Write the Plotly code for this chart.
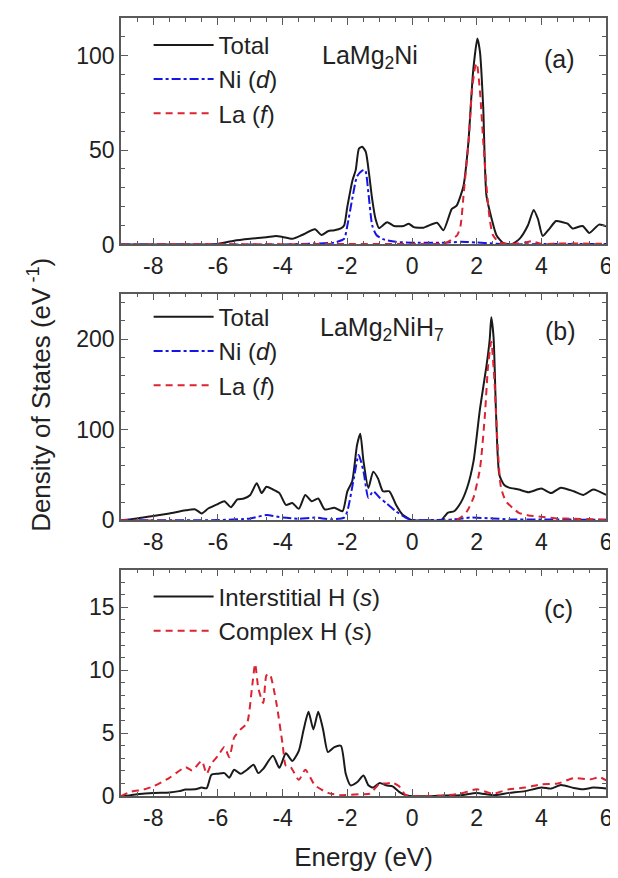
import plotly.graph_objects as go

# ---------------- Panel (a): LaMg2Ni ----------------
a_total_E = [-9, -6.5, -6.0, -5.5, -5.0, -4.5, -4.2, -4.0, -3.7, -3.4, -3.0, -2.8, -2.6, -2.4, -2.2,
             -2.10, -2.0, -1.84, -1.74, -1.64, -1.54, -1.43, -1.33, -1.23, -1.13, -1.02,
             -0.77, -0.56, -0.26, -0.1, 0.05, 0.36, 0.77, 0.97, 1.23, 1.38, 1.59, 1.74, 1.89,
             2.02, 2.1, 2.2, 2.3, 2.46, 2.61, 2.81, 3.07, 3.33, 3.58, 3.76, 3.89, 4.04, 4.25,
             4.45, 4.66, 4.81, 4.96, 5.27, 5.48, 5.78, 6.0]
a_total = [0, 0, 0.3, 2, 3, 3.8, 4.5, 4, 3, 5, 8, 5, 7, 7.5, 8.5,
           10, 20, 34, 39.5, 50.8, 51.7, 49, 37.6, 23.7, 13.6, 8.7,
           11.8, 9.8, 9.8, 11, 9.2, 8.9, 11.5, 7.5, 18.8, 20.6, 31, 53.7, 92,
           109, 102, 72.8, 25.8, 13.6, 4.9, 0.9, 0, 3.1, 10, 18.3, 13.6, 4.5, 8.4,
           12.4, 11.8, 11, 8.4, 9.8, 6.1, 10.5, 9.6]

a_ni_E = [-9, -4.0, -3.0, -2.4, -2.1, -2.0, -1.85, -1.7, -1.55, -1.45, -1.35, -1.23, -1.1, -0.9,
          -0.5, 0, 1.0, 1.5, 2.0, 2.5, 3.0, 4.0, 6.0]
a_ni = [0, 0, 0.5, 1, 3, 10, 24, 36, 39, 39.4, 27.5, 10, 5, 2.8,
        1.4, 0.9, 0.9, 1.4, 1, 0.5, 0, 0.2, 0.2]

a_la_E = [-9, -2.0, 0, 1.0, 1.2, 1.4, 1.5, 1.6, 1.75, 1.85, 1.95, 2.0, 2.1, 2.2, 2.3, 2.4, 2.5,
          2.7, 3.0, 3.5, 3.7, 4.0, 4.5, 5.0, 6.0]
a_la = [0, 0.2, 0.2, 0.5, 2.3, 5, 10, 27.5, 55, 81, 94, 96, 81, 55, 31, 13.6, 5,
        1, 0.2, 1, 1.7, 0.3, 0.5, 0.5, 0.3]

# ---------------- Panel (b): LaMg2NiH7 ----------------
b_total_E = [-9, -8.5, -8, -7.5, -7, -6.7, -6.5, -6.3, -6, -5.8, -5.6, -5.4, -5.2, -5, -4.8, -4.65,
             -4.5, -4.3, -4.1, -3.9, -3.7, -3.5, -3.3, -3.1, -2.9, -2.7, -2.4, -2.15, -2.0,
             -1.85, -1.7, -1.6, -1.5, -1.35, -1.2, -1.05, -0.9, -0.7, -0.5, -0.3, 0, 0.5, 0.9,
             1.1, 1.3, 1.5, 1.7, 1.9, 2.1, 2.3, 2.4, 2.45, 2.52, 2.6, 2.7, 2.85, 3.0, 3.3, 3.6,
             4.0, 4.3, 4.6, 5.0, 5.3, 5.6, 6.0]
b_total = [0, 2, 4.7, 7.6, 11, 12, 7.6, 13, 18, 21, 14.5, 23, 24, 28, 41, 30,
           37, 34, 30, 17, 19, 12.7, 28, 21, 24, 12, 13.8, 10, 32,
           43, 83, 95.5, 65, 35.6, 53.7, 46, 32, 32, 17.4, 6.5, 0, 0, 0,
           8.3, 10, 19, 35.6, 65, 123, 170, 199, 224, 202, 115, 50, 39, 36, 34, 31,
           35, 30, 36, 32, 28, 34, 28]

b_ni_E = [-9, -6, -5, -4.5, -4, -3.5, -3, -2.5, -2.1, -2.0, -1.8, -1.65, -1.5, -1.35, -1.2, -1.0,
          -0.8, -0.5, -0.2, 0, 1.0, 1.3, 1.8, 2.5, 3.0, 4.0, 6.0]
b_ni = [0, 0.3, 2, 5.8, 3, 1.8, 3, 1, 3, 10, 46, 72, 54, 25, 32, 25,
        19, 10, 3, 0.5, 0.5, 1, 3, 2, 1, 1, 0.5]

b_la_E = [-9, 1.3, 1.5, 1.7, 1.9, 2.1, 2.25, 2.35, 2.45, 2.55, 2.65, 2.75, 2.9, 3.1, 3.3, 3.6,
          4.0, 4.5, 5.0, 6.0]
b_la = [0, 0, 3, 10, 25, 57, 115, 170, 197, 152, 79, 36, 21, 14, 8.3, 5.4,
        4, 2, 1.8, 0.5]

# ---------------- Panel (c): H s-states ----------------
c_int_E = [-9, -8.7, -8.5, -8, -7.5, -7.2, -7, -6.7, -6.5, -6.35, -6.2, -6, -5.8, -5.65, -5.5,
           -5.3, -5.1, -4.9, -4.75, -4.6, -4.3, -4.1, -3.9, -3.7, -3.5, -3.35, -3.2, -3.05,
           -2.9, -2.75, -2.6, -2.4, -2.2, -2.05, -1.9, -1.7, -1.5, -1.35, -1.2, -1.0, -0.8,
           -0.6, -0.4, -0.2, 0, 0.5, 1.0, 1.5, 2.0, 2.5, 3.0, 3.5, 4.0, 4.3, 4.6, 5.0, 5.3,
           5.6, 6.0]
c_int = [0, 0.08, 0.15, 0.26, 0.3, 0.4, 0.52, 0.55, 0.68, 0.63, 1.7, 1.78, 1.83, 1.46, 2.1,
         1.78, 2.1, 2.5, 1.83, 2.17, 3.2, 2.25, 3.4, 2.8, 3.6, 5.3, 6.7, 5.3,
         6.7, 5.3, 3.5, 3.9, 4.0, 1.78, 0.86, 1.1, 1.64, 0.86, 0.68, 1.05, 0.86,
         0.78, 0.34, 0.08, 0, 0, 0.05, 0.08, 0.26, 0.08, 0.26, 0.4, 0.68, 0.6, 0.89, 0.65, 0.55,
         0.68, 0.6]

c_cpx_E = [-9, -8.7, -8.3, -8, -7.5, -7, -6.8, -6.5, -6.35, -6.2, -6, -5.8, -5.65, -5.5, -5.3,
           -5.1, -4.95, -4.85, -4.75, -4.6, -4.5, -4.4, -4.2, -4.0, -3.9, -3.75, -3.5, -3.3,
           -3.0, -2.6, -2.2, -1.6, -1.3, -1.0, -0.8, -0.6, -0.4, -0.2, 0, 1.0, 1.5, 2.0, 2.5,
           3.0, 3.5, 4.0, 4.5, 5.0, 5.5, 5.8, 6.0]
c_cpx = [0, 0.34, 0.52, 0.78, 1.46, 2.3, 2.04, 2.8, 1.78, 2.6, 3.2, 3.9, 3.1, 4.65, 5.3,
         5.8, 8.55, 10.5, 8.55, 7.4, 9.6, 9.7, 7.5, 4.1, 2.4, 2.3, 1.3, 2.1,
         0.86, 0.26, 0.08, 0.16, 0.2, 1.0, 1.0, 1.07, 0.78, 0.08, 0, 0.05, 0.2, 0.55, 0.2,
         0.55, 0.68, 0.94, 1.0, 1.44, 1.33, 1.5, 1.25]

x_ticks = [-8, -6, -4, -2, 0, 2, 4, 6]

BLACK = "#1a1a1a"
BLUE = "#1515e8"
RED = "#dd2230"
TXT = "#222222"
AX = "#5a5a5a"
FONT = "Liberation Sans, Arial, sans-serif"

fig = go.Figure()

def add(x, y, name, color, dash, xa, ya, legend, width=2):
    fig.add_trace(go.Scatter(x=x, y=y, mode="lines", name=name, xaxis=xa, yaxis=ya,
                             legend=legend,
                             line=dict(color=color, width=width, dash=dash, shape="spline",
                                       smoothing=0.6)))

add(a_total_E, a_total, "Total", BLACK, "solid", "x", "y", "legend")
add(a_ni_E, a_ni, "Ni (<i>d</i>)", BLUE, "dashdot", "x", "y", "legend")
add(a_la_E, a_la, "La (<i>f</i>)", RED, "7px,5px", "x", "y", "legend")

add(b_total_E, b_total, "Total", BLACK, "solid", "x2", "y2", "legend2")
add(b_ni_E, b_ni, "Ni (<i>d</i>)", BLUE, "dashdot", "x2", "y2", "legend2")
add(b_la_E, b_la, "La (<i>f</i>)", RED, "7px,5px", "x2", "y2", "legend2")

add(c_int_E, c_int, "Interstitial H (<i>s</i>)", BLACK, "solid", "x3", "y3", "legend3")
add(c_cpx_E, c_cpx, "Complex H (<i>s</i>)", RED, "7px,5px", "x3", "y3", "legend3")

H = 878.0
W = 618.0
xdom = [114 / W, 604 / W]

def ydom(top, bottom):
    return [1 - bottom / H, 1 - top / H]

axis_common = dict(
    showline=True, linecolor=AX, linewidth=1.5, mirror="ticks",
    ticks="inside", ticklen=7, tickwidth=1.3, tickcolor=AX,
    showgrid=False, zeroline=False,
    tickfont=dict(family=FONT, size=23, color=TXT),
)

def xaxis(anchor, title=None):
    d = dict(axis_common, domain=xdom, anchor=anchor, range=[-9, 6],
             tickvals=x_ticks, ticktext=[str(v) for v in x_ticks],
             minor=dict(dtick=0.5, ticks="inside", ticklen=4, tickcolor=AX, tickwidth=1))
    if title:
        d["title"] = dict(text=title, font=dict(family=FONT, size=26, color=TXT), standoff=18)
    return d

def yaxis(anchor, dom, rng, dt, mdt):
    return dict(axis_common, domain=dom, anchor=anchor, range=rng, dtick=dt, tick0=0,
                minor=dict(dtick=mdt, ticks="inside", ticklen=4, tickcolor=AX, tickwidth=1))

leg_font = dict(family=FONT, size=24, color=TXT)

def legend(ytop_px):
    return dict(x=142 / W, y=1 - ytop_px / H, xanchor="left", yanchor="top",
                bgcolor="rgba(0,0,0,0)", font=leg_font, tracegroupgap=0,
                itemwidth=60, borderwidth=0)

fig.update_layout(
    width=618, height=878,
    margin=dict(l=0, r=0, t=0, b=0),
    paper_bgcolor="white", plot_bgcolor="white",
    showlegend=True,
    xaxis=xaxis("y"),
    yaxis=yaxis("x", ydom(10, 240), [0, 120], 50, 10),
    xaxis2=xaxis("y2"),
    yaxis2=yaxis("x2", ydom(290, 520), [0, 250], 100, 20),
    xaxis3=xaxis("y3", "Energy (eV)"),
    yaxis3=yaxis("x3", ydom(570, 800), [0, 18], 5, 1),
    legend=legend(15),
    legend2=legend(291),
    legend3=legend(575),
    font=dict(family=FONT, color=TXT),
)

ann_font = dict(family=FONT, size=25, color=TXT)
annotations = [
    dict(text="LaMg<sub>2</sub>Ni", x=366 / W, y=1 - 50 / H),
    dict(text="(a)", x=557 / W, y=1 - 52 / H),
    dict(text="LaMg<sub>2</sub>NiH<sub>7</sub>", x=378 / W, y=1 - 326 / H),
    dict(text="(b)", x=558 / W, y=1 - 328 / H),
    dict(text="(c)", x=556 / W, y=1 - 610 / H),
]
for a in annotations:
    fig.add_annotation(xref="paper", yref="paper", showarrow=False, font=ann_font,
                       xanchor="center", yanchor="middle", **a)

fig.add_annotation(text="Density of States (eV<sup> -1</sup>)", xref="paper", yref="paper",
                   x=32 / W, y=1 - 393 / H, textangle=-90, showarrow=False,
                   font=dict(family=FONT, size=26, color=TXT),
                   xanchor="center", yanchor="middle")

fig.write_html("out.html")
